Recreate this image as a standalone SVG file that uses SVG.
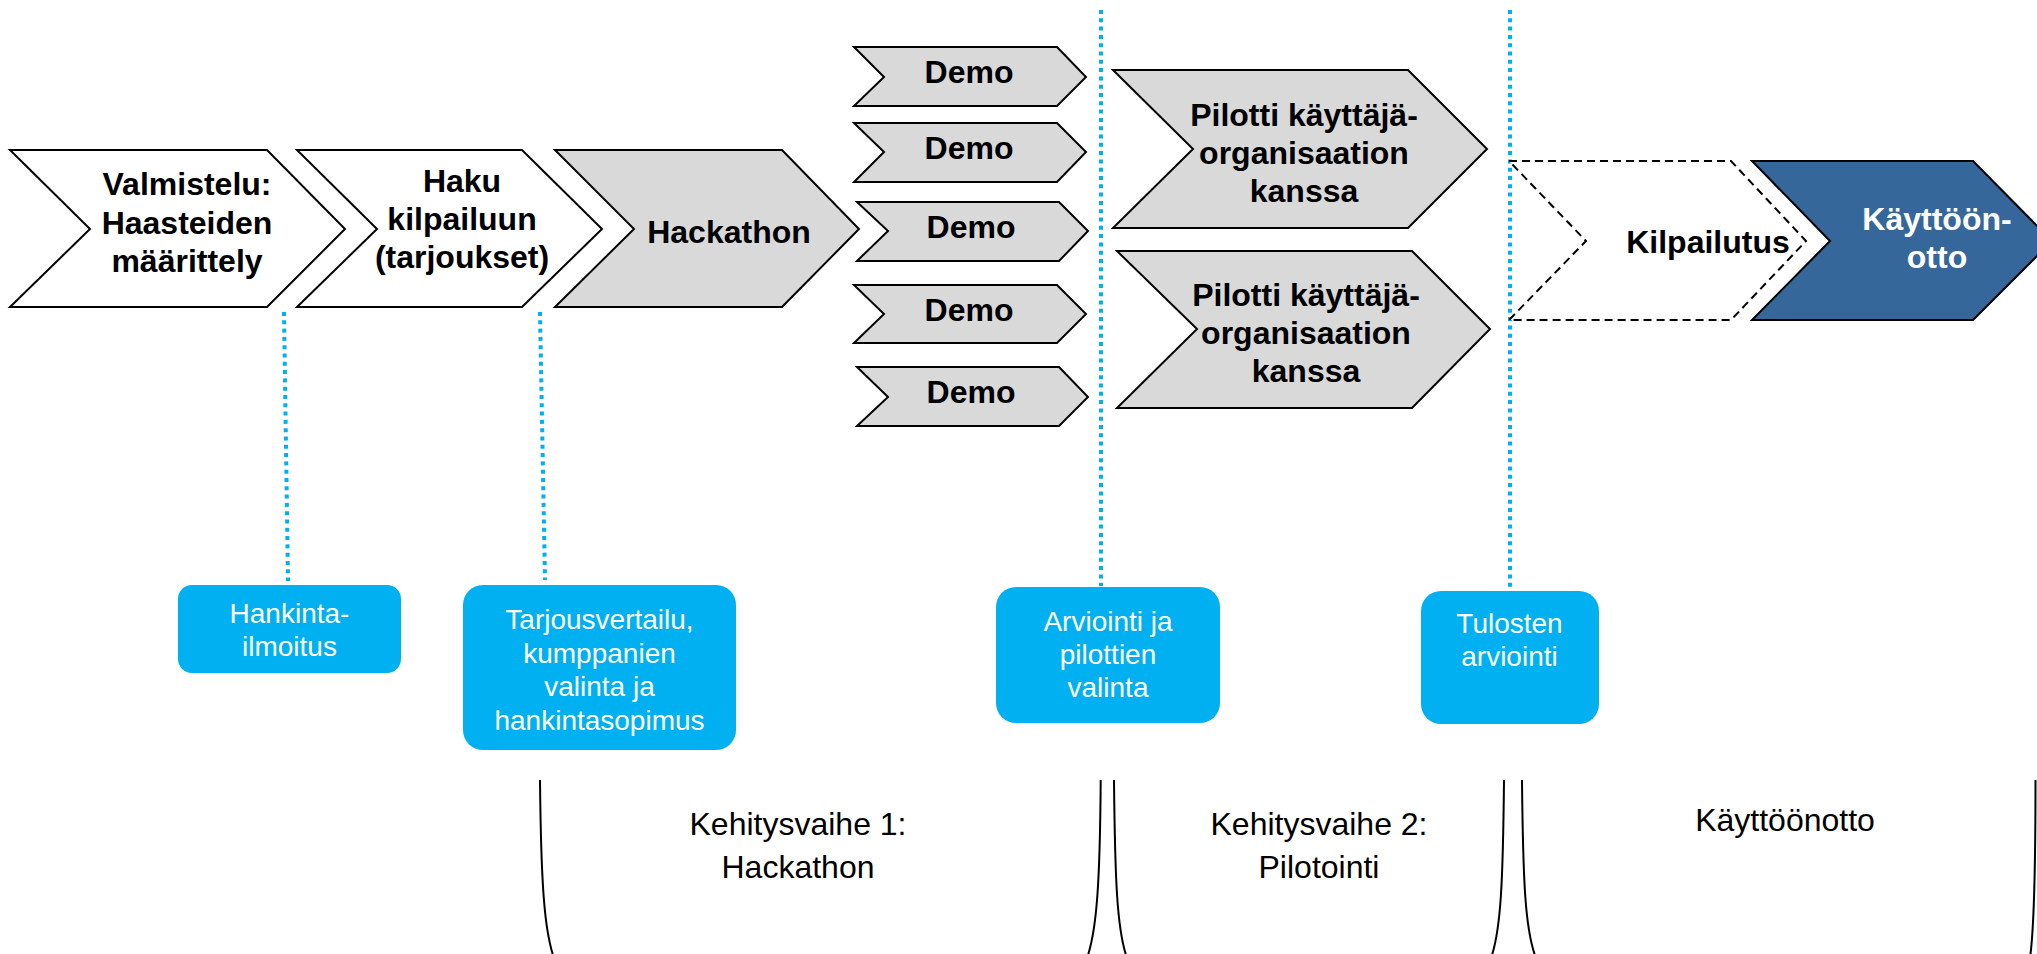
<svg xmlns="http://www.w3.org/2000/svg" width="2037" height="954" viewBox="0 0 2037 954">
<style>
.chev{fill:#D9D9D9;stroke:#000;stroke-width:2;stroke-linejoin:miter}
.white{fill:#FFFFFF}
.dash{fill:#FFFFFF;stroke:#000;stroke-width:2;stroke-dasharray:8 5}
.blue{fill:#35679A}
.t{font-family:"Liberation Sans",Arial,sans-serif;font-weight:bold;font-size:32px;text-anchor:middle;fill:#000}
.tw{fill:#FFFFFF}
.box{fill:#00B0F0}
.bt{font-family:"Liberation Sans",Arial,sans-serif;font-size:28px;text-anchor:middle;fill:#FFFFFF}
.dot{fill:none;stroke:#00B0F0;stroke-width:4;stroke-dasharray:4 4.3}
.brk{fill:none;stroke:#000;stroke-width:2}
.lab{font-family:"Liberation Sans",Arial,sans-serif;font-size:32px;text-anchor:middle;fill:#000}
</style>

<g id="connectors">
<line class="dot" x1="284" y1="312" x2="288" y2="581"/>
<line class="dot" x1="540" y1="312" x2="545" y2="580"/>
<line class="dot" x1="1101" y1="10" x2="1101" y2="586"/>
<line class="dot" x1="1510" y1="10" x2="1510" y2="590"/>
</g>

<g id="valmistelu">
<polygon class="chev white" points="10,150 267,150 345,229 267,307 10,307 90,229"/>
<text class="t" x="187" y="195">Valmistelu:</text>
<text class="t" x="187" y="234">Haasteiden</text>
<text class="t" x="187" y="272">määrittely</text>
</g>

<g id="haku">
<polygon class="chev white" points="297,150 522,150 602,229 522,307 297,307 377,229"/>
<text class="t" x="462" y="192">Haku</text>
<text class="t" x="462" y="230">kilpailuun</text>
<text class="t" x="462" y="268">(tarjoukset)</text>
</g>

<g id="hackathon">
<polygon class="chev" points="555,150 782,150 859,229 782,307 555,307 634,229"/>
<text class="t" x="729" y="243">Hackathon</text>
</g>

<g id="demo1">
<polygon class="chev" points="854,47 1057,47 1086,77 1057,106 854,106 884,77"/>
<text class="t" x="969" y="83">Demo</text>
</g>
<g id="demo2">
<polygon class="chev" points="854,123 1057,123 1086,152 1057,182 854,182 884,152"/>
<text class="t" x="969" y="159">Demo</text>
</g>
<g id="demo3">
<polygon class="chev" points="857,202 1059,202 1088,231 1059,261 857,261 888,231"/>
<text class="t" x="971" y="238">Demo</text>
</g>
<g id="demo4">
<polygon class="chev" points="854,285 1057,285 1086,314 1057,343 854,343 884,314"/>
<text class="t" x="969" y="321">Demo</text>
</g>
<g id="demo5">
<polygon class="chev" points="857,367 1059,367 1088,397 1059,426 857,426 888,397"/>
<text class="t" x="971" y="403">Demo</text>
</g>

<g id="pilotti1">
<polygon class="chev" points="1113,70 1408,70 1487,149 1408,228 1113,228 1193,149"/>
<text class="t" x="1304" y="126">Pilotti käyttäjä-</text>
<text class="t" x="1304" y="164">organisaation</text>
<text class="t" x="1304" y="202">kanssa</text>
</g>
<g id="pilotti2">
<polygon class="chev" points="1117,251 1412,251 1490,329 1412,408 1117,408 1197,329"/>
<text class="t" x="1306" y="306">Pilotti käyttäjä-</text>
<text class="t" x="1306" y="344">organisaation</text>
<text class="t" x="1306" y="382">kanssa</text>
</g>

<g id="kilpailutus">
<polygon class="dash" points="1509,161 1731,161 1806,241 1731,320 1509,320 1586,241"/>
<text class="t" x="1708" y="253">Kilpailutus</text>
</g>

<g id="kayttoonotto">
<polygon class="chev blue" points="1752,161 1973,161 2052,241 1973,320 1752,320 1830,241"/>
<text class="t tw" x="1937" y="230">Käyttöön-</text>
<text class="t tw" x="1937" y="268">otto</text>
</g>

<g id="hankintailmoitus">
<rect class="box" x="178" y="585" width="223" height="88" rx="14"/>
<text class="bt" x="289.5" y="623">Hankinta-</text>
<text class="bt" x="289.5" y="656">ilmoitus</text>
</g>

<g id="tarjousvertailu">
<rect class="box" x="463" y="585" width="273" height="165" rx="20"/>
<text class="bt" x="599.5" y="629">Tarjousvertailu,</text>
<text class="bt" x="599.5" y="662.5">kumppanien</text>
<text class="bt" x="599.5" y="696">valinta ja</text>
<text class="bt" x="599.5" y="729.5">hankintasopimus</text>
</g>

<g id="arviointi">
<rect class="box" x="996" y="587" width="224" height="136" rx="20"/>
<text class="bt" x="1108" y="631">Arviointi ja</text>
<text class="bt" x="1108" y="664">pilottien</text>
<text class="bt" x="1108" y="697">valinta</text>
</g>

<g id="tulosten">
<rect class="box" x="1421" y="591" width="178" height="133" rx="20"/>
<text class="bt" x="1509.5" y="633">Tulosten</text>
<text class="bt" x="1509.5" y="666">arviointi</text>
</g>

<g id="vaihe1">
<path class="brk" d="M540,780 C541,880 544,930 554,958"/>
<path class="brk" d="M1100.7,780 C1100,880 1097,930 1087,958"/>
<text class="lab" x="798" y="835">Kehitysvaihe 1:</text>
<text class="lab" x="798" y="878">Hackathon</text>
</g>

<g id="vaihe2">
<path class="brk" d="M1114,780 C1115,880 1117,930 1127,958"/>
<path class="brk" d="M1504,780 C1503,880 1501,930 1491,958"/>
<text class="lab" x="1319" y="835">Kehitysvaihe 2:</text>
<text class="lab" x="1319" y="878">Pilotointi</text>
</g>

<g id="vaihe3">
<path class="brk" d="M1522,780 C1523,880 1525,930 1536,958"/>
<path class="brk" d="M2035.5,780 C2035.5,880 2034,930 2030,958"/>
<text class="lab" x="1785" y="831">Käyttöönotto</text>
</g>
</svg>
